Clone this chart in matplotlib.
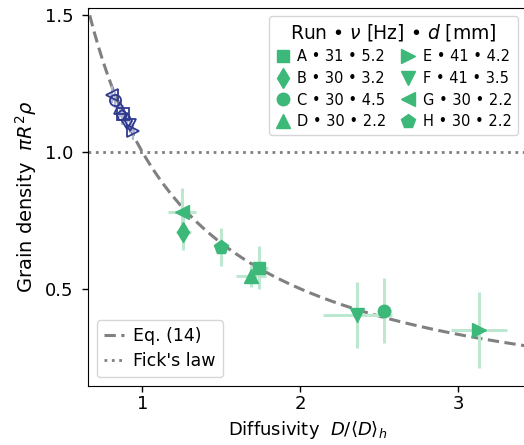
import matplotlib
matplotlib.use("Agg")
import matplotlib.pyplot as plt
import numpy as np

# runs: label, frequency [Hz], diameter [mm]
runs = ["A", "B", "C", "D", "E", "F", "G", "H"]
freq = [31, 30, 30, 30, 41, 41, 30, 30]
diam = [5.2, 3.2, 4.5, 2.2, 4.2, 3.5, 2.2, 2.2]
markers = ["s", "d", "o", "^", ">", "v", "<", "p"]

# filled points (measured)
diff = [1.74, 1.26, 2.53, 1.69, 3.13, 2.36, 1.25, 1.495]
dens = [0.577, 0.709, 0.42, 0.547, 0.349, 0.405, 0.782, 0.654]
diff_err = [0.057, 0.05, 0.04, 0.095, 0.176, 0.22, 0.09, 0.03]
dens_err = [0.078, 0.066, 0.118, 0.04, 0.138, 0.12, 0.087, 0.07]

# open points (second set)
diff_open = [0.88, 0.90, 0.83, 0.86, 0.94, 0.92, 0.81, 0.87]
dens_open = [1.14, 1.115, 1.19, 1.16, 1.075, 1.10, 1.21, 1.13]

green = "#3cb878"
green_light = "#bde8d0"
navy = "#2f3a8f"

fig = plt.figure(figsize=(5.24, 4.45), dpi=100)
ax = fig.add_axes([88 / 524, 59 / 445, 440 / 524, 378.5 / 445])

xs = np.linspace(0.6, 3.6, 300)
ax.plot(xs, 1 / xs, ls=(0, (3.7, 1.8)), color="gray", lw=2.2, label="Eq. (14)", zorder=2)
ax.axhline(1.0, ls=":", color="gray", lw=2, label="Fick's law", zorder=1)

for i in range(len(runs)):
    ax.errorbar(diff_open[i], dens_open[i], xerr=0.015, yerr=0.03, fmt=markers[i],
                mfc="none", mec=navy, mew=1.3, ms=8, ecolor="#b0b6d6", elinewidth=1.5,
                zorder=3)

handles = []
for i in range(len(runs)):
    ax.errorbar(diff[i], dens[i], xerr=diff_err[i], yerr=dens_err[i], fmt="none",
                ecolor=green_light, elinewidth=2.2, zorder=3)
    h, = ax.plot(diff[i], dens[i], markers[i], color=green, ms=10 if markers[i] in "dp<>^v" else 9,
                 ls="none", zorder=4,
                 label=f"{runs[i]} • {freq[i]} • {diam[i]}")
    handles.append(h)

ax.set_xlim(0.656, 3.44)
ax.set_ylim(0.145, 1.528)
ax.set_xticks([1, 2, 3])
ax.set_yticks([0.5, 1.0, 1.5])
ax.tick_params(labelsize=13, length=4.5, width=1)
ax.tick_params(axis="y", pad=6)
ax.tick_params(axis="x", pad=2)
ax.spines["right"].set_visible(False)
ax.set_xlabel(r"Diffusivity  $D/\langle D\rangle_h$", fontsize=13)
ax.set_ylabel(r"Grain density  $\pi R^2\rho$", fontsize=14)

# handles ordered column-wise: A B C D | E F G H
leg1 = ax.legend(handles=handles, ncol=2, fontsize=10.5, loc="upper right",
                 bbox_to_anchor=(518 / 524, 1 - 16 / 445), bbox_transform=fig.transFigure,
                 borderaxespad=0,
                 title=r"Run • $\nu$ [Hz] • $d$ [mm]", title_fontsize=13.5,
                 handlelength=1.0, handletextpad=0.5, columnspacing=1.0,
                 labelspacing=0.45, borderpad=0.4)
ax.add_artist(leg1)
lines = ax.get_lines()[:2]
ax.legend(handles=lines, loc="lower left", fontsize=12.5, handlelength=1.2,
          handletextpad=0.5, borderpad=0.4, labelspacing=0.4)

fig.savefig("out.png", dpi=100)
